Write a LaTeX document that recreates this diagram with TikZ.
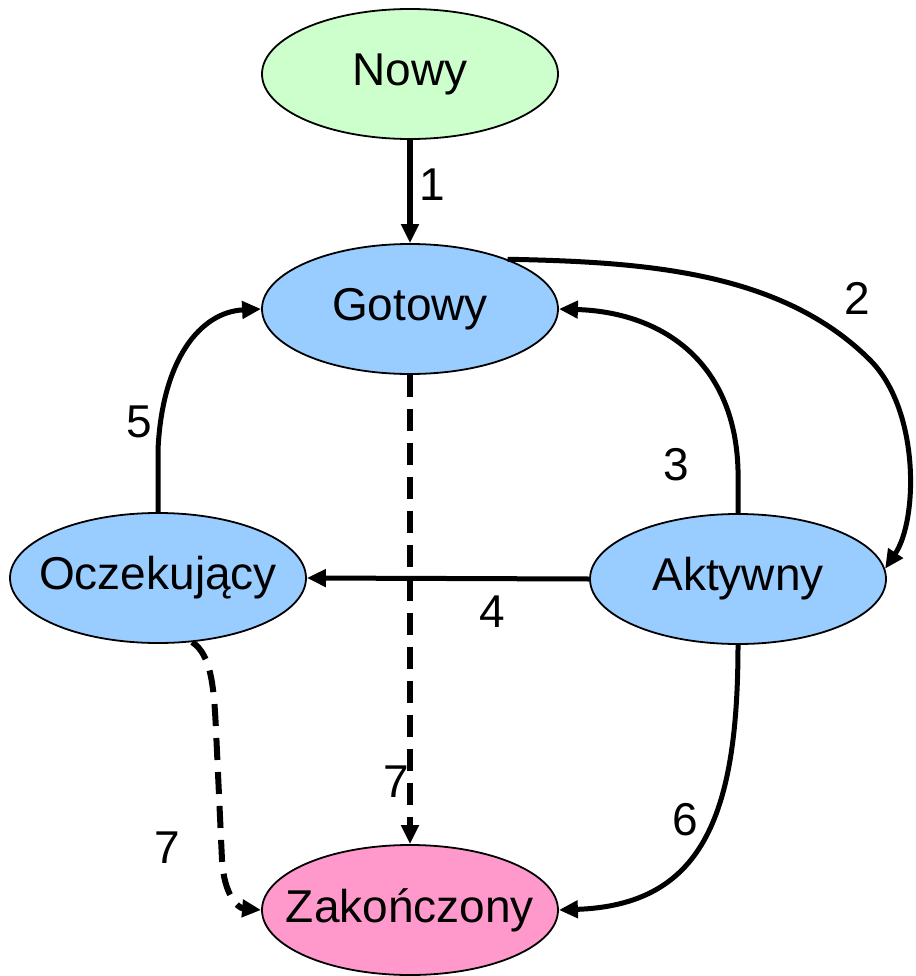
\documentclass[tikz,border=0pt]{standalone}
\usepackage{fontspec}
\setmainfont{Liberation Sans}
\usetikzlibrary{shapes.geometric,arrows.meta}
\definecolor{cgreen}{HTML}{CCFFCC}
\definecolor{cblue}{HTML}{99CCFF}
\definecolor{cpink}{HTML}{FF99CC}
\tikzset{
  state/.style={ellipse,draw=black,line width=1.8pt,minimum width=296pt,minimum height=130pt,inner sep=0pt},
  stext/.style={font=\fontsize{46}{50}\selectfont,inner sep=0pt},
  conn/.style={line width=5pt,-{Triangle[length=19pt,width=17pt]}},
  dconn/.style={conn,line width=6pt,dash pattern=on 22pt off 12pt},
  lbl/.style={font=\fontsize{46}{50}\selectfont,inner sep=0pt}
}
\begin{document}
\begin{tikzpicture}[x=1pt,y=-1pt]
\useasboundingbox (0,0) rectangle (915,976);
\node[state,fill=cgreen,label={[stext]center:Nowy}] (nowy) at (410,74) {};
\node[state,fill=cblue,label={[stext]center:Gotowy}] (gotowy) at (410,309) {};
\node[state,fill=cblue,label={[stext]center:Oczekujący}] (oczek) at (158,578) {};
\node[state,fill=cblue,label={[stext]center:Aktywny}] (aktywny) at (738,579) {};
\node[state,fill=cpink,label={[stext]center:Zakończony}] (zak) at (410,910) {};

\draw[conn,line width=5.5pt] (nowy) -- (gotowy);
\draw[conn] (gotowy.27) .. controls (640,262) and (780,270) .. (870,360) .. controls (920,410) and (918,520) .. (aktywny.4);
\draw[conn] (aktywny.north) -- (738,470) .. controls (735,360) and (660,312) .. (gotowy.east);
\draw[conn] (aktywny.west) -- (oczek.east);
\draw[conn] (oczek.north) -- (158,450) .. controls (162,360) and (200,312) .. (gotowy.west);
\draw[conn] (aktywny.south) .. controls (738,820) and (700,905) .. (zak.east);
\draw[dconn] (gotowy.south) -- (zak.north);
\draw[dconn] (oczek.-62) .. controls (212,655) and (214,690) .. (216,730) -- (222,860) .. controls (224,895) and (238,908) .. (zak.west);

\node[lbl] (l1) at (432,185) {1};
\node[lbl] (l2) at (857,298) {2};
\node[lbl] (l3) at (676,465) {3};
\node[lbl] (l4) at (492,612) {4};
\node[lbl] (l5) at (139,422) {5};
\node[lbl] (l6) at (685,820) {6};
\node[lbl] (l7a) at (396,782) {7};
\node[lbl] (l7b) at (167,848) {7};
\end{tikzpicture}
\end{document}
